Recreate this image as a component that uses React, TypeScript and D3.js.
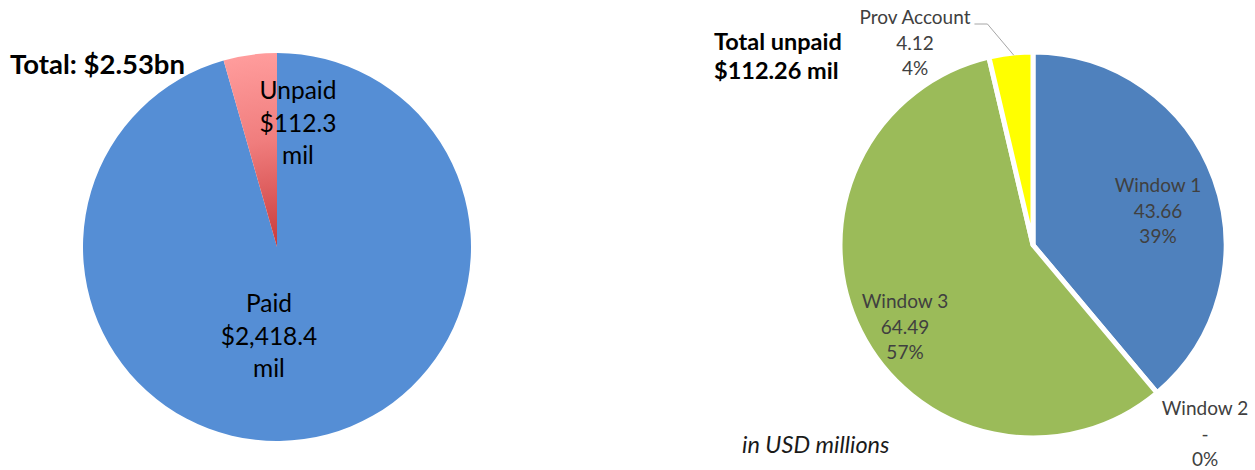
import * as React from "react"
import * as d3 from "d3"

// left pie: paid vs unpaid (USD millions)
const paidCategories = ["Paid", "Unpaid"]
const paidValues = [2418.4, 112.3]
const paidAmountLabels = ["$2,418.4", "$112.3"]
const paidTitle = "Total: $2.53bn"

// right pie: unpaid split by window (USD millions)
const windowCategories = ["Window 1", "Window 2", "Window 3", "Prov Account"]
const windowValues = [43.66, 0, 64.49, 4.12]
const windowValueLabels = ["43.66", "-", "64.49", "4.12"]
const windowTitle = ["Total unpaid", "$112.26 mil"]
const unitNote = "in USD millions"

const WIDTH = 1255
const HEIGHT = 470
const FONT = "Lato, 'Noto Sans', sans-serif"

const leftPie = { cx: 277, cy: 247, r: 194 }
const rightPie = { cx: 1033, cy: 245, r: 193 }

// first-baseline offsets of the label blocks from the pie centre
const paidLabelPos: Record<string, [number, number]> = {
  Paid: [-8, 65],
  Unpaid: [21, -148],
}
const windowLabelPos: Record<string, [number, number]> = {
  "Window 1": [125, -53],
  "Window 2": [172, 170],
  "Window 3": [-128, 63],
  "Prov Account": [-118, -221],
}

const paidColors: Record<string, string> = {
  Paid: "#558ed5",
  Unpaid: "url(#unpaidgrad)",
}
const windowColors: Record<string, string> = {
  "Window 1": "#4f81bd",
  "Window 2": "#c0504d",
  "Window 3": "#9bbb59",
  "Prov Account": "#ffff00",
}

interface Slice {
  name: string
  value: number
  amount: string
}

function render(svgRef: React.RefObject<SVGSVGElement>) {
  const svg = d3
    .select(svgRef.current)
    .attr("width", WIDTH)
    .attr("height", HEIGHT)
    .attr("font-family", FONT)

  svg.selectAll("*").remove()

  // ---- left pie
  const paidData: Slice[] = paidCategories.map((name, i) => ({
    name,
    value: paidValues[i],
    amount: paidAmountLabels[i],
  }))

  const pie = d3
    .pie<Slice>()
    .sort(null)
    .value((d) => d.value)

  const gl = svg
    .append("g")
    .attr("transform", `translate(${leftPie.cx},${leftPie.cy})`)

  const grad = gl
    .append("defs")
    .append("radialGradient")
    .attr("id", "unpaidgrad")
    .attr("gradientUnits", "userSpaceOnUse")
    .attr("cx", 0)
    .attr("cy", 0)
    .attr("r", leftPie.r)
  grad.append("stop").attr("offset", "0%").style("stop-color", "#c93a3a")
  grad.append("stop").attr("offset", "55%").style("stop-color", "#f07d7d")
  grad.append("stop").attr("offset", "100%").style("stop-color", "#ff9c9c")

  const arcL = d3
    .arc<d3.PieArcDatum<Slice>>()
    .innerRadius(0)
    .outerRadius(leftPie.r)

  gl.selectAll(".slice")
    .data(pie(paidData))
    .join("path")
    .attr("class", "slice")
    .attr("d", arcL)
    .attr("fill", (d) => paidColors[d.data.name])

  const lLabels = gl
    .selectAll(".plabel")
    .data(paidData)
    .join("text")
    .attr("class", "plabel")
    .attr("text-anchor", "middle")
    .attr("font-size", 24.5)
    .attr("fill", "#000")

  lLabels
    .selectAll("tspan")
    .data((d) => [d.name, d.amount, "mil"].map((t) => ({ t, d })))
    .join("tspan")
    .attr("x", (o) => paidLabelPos[o.d.name][0])
    .attr("y", (o, i) => paidLabelPos[o.d.name][1] + i * 32.5)
    .text((o) => o.t)

  svg
    .append("text")
    .attr("x", 10)
    .attr("y", 74)
    .attr("font-size", 27.5)
    .attr("font-weight", "bold")
    .attr("fill", "#000")
    .text(paidTitle)

  // ---- right pie
  const windowData: Slice[] = windowCategories.map((name, i) => ({
    name,
    value: windowValues[i],
    amount: windowValueLabels[i],
  }))
  const total = d3.sum(windowValues)
  const pct = d3.format(".0%")

  const gr = svg
    .append("g")
    .attr("transform", `translate(${rightPie.cx},${rightPie.cy})`)

  const arcR = d3
    .arc<d3.PieArcDatum<Slice>>()
    .innerRadius(0)
    .outerRadius(rightPie.r)

  const arcs = pie(windowData)

  gr.selectAll(".slice")
    .data(arcs.filter((d) => d.value > 0))
    .join("path")
    .attr("class", "slice")
    .attr("d", arcR)
    .attr("fill", (d) => windowColors[d.data.name])
    .attr("stroke", "#fff")
    .attr("stroke-width", 5)
    .attr("stroke-linejoin", "round")

  const rLabels = gr
    .selectAll(".wlabel")
    .data(windowData)
    .join("text")
    .attr("class", "wlabel")
    .attr("text-anchor", "middle")
    .attr("font-size", 19)
    .attr("fill", "#404040")

  rLabels
    .selectAll("tspan")
    .data((d) =>
      [d.name, d.amount, pct(d.value / total)].map((t) => ({ t, d }))
    )
    .join("tspan")
    .attr("x", (o) => windowLabelPos[o.d.name][0])
    .attr("y", (o, i) => windowLabelPos[o.d.name][1] + i * 25.6)
    .text((o) => o.t)

  // leader line for the small slice
  const prov = arcs.find((d) => d.data.name === "Prov Account")!
  const provName = rLabels
    .filter((d) => d.name === "Prov Account")
    .select<SVGTSpanElement>("tspan")
  const nameWidth = provName.node()!.getComputedTextLength()
  const [px, py] = windowLabelPos["Prov Account"]
  const edge = d3
    .arc<d3.PieArcDatum<Slice>>()
    .innerRadius(rightPie.r)
    .outerRadius(rightPie.r)
    .centroid(prov)
  const start: [number, number] = [px + nameWidth / 2 + 4, py]
  const elbow: [number, number] = [start[0] + 13, py]

  gr.append("path")
    .attr("d", d3.line()([start, elbow, [edge[0] + 3, edge[1] + 2]]))
    .attr("fill", "none")
    .attr("stroke", "#a6a6a6")
    .attr("stroke-width", 1)

  svg
    .append("g")
    .attr("font-size", 23.5)
    .attr("font-weight", "bold")
    .attr("fill", "#000")
    .selectAll("text")
    .data(windowTitle)
    .join("text")
    .attr("x", 714)
    .attr("y", (_d, i) => 50 + i * 29)
    .text((d) => d)

  svg
    .append("text")
    .attr("x", 742)
    .attr("y", 453)
    .attr("font-size", 23.5)
    .attr("font-style", "italic")
    .attr("fill", "#1a1a1a")
    .text(unitNote)
}

export default function App(): React.JSX.Element {
  const svg = React.useRef<SVGSVGElement>(null)

  React.useEffect(() => {
    document.body.style.margin = "0"
    render(svg)
  }, [])

  return <svg ref={svg} style={{ display: "block" }}></svg>
}
